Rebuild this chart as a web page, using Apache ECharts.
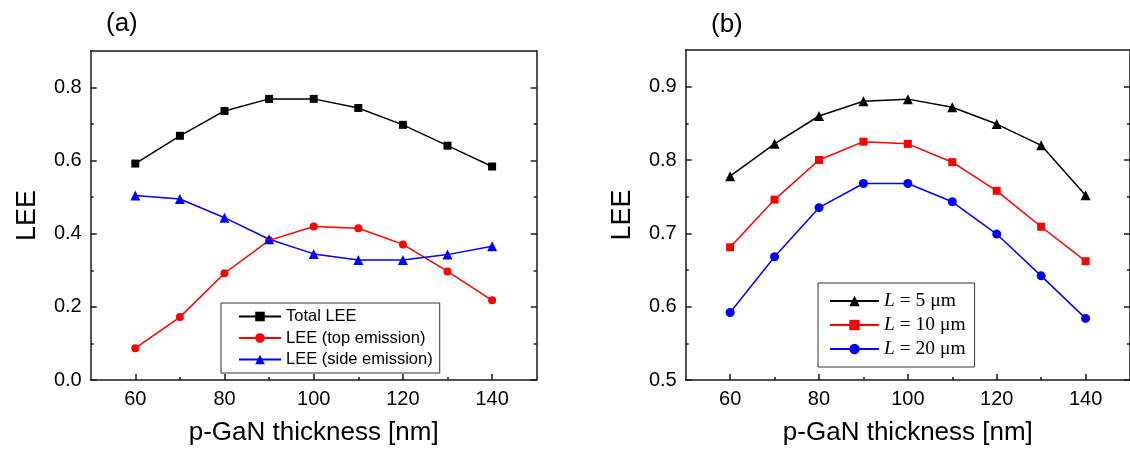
<!DOCTYPE html>
<html><head><meta charset="utf-8">
<script src="https://cdn.jsdelivr.net/npm/echarts@6/dist/echarts.min.js"></script>
<style>html,body{margin:0;padding:0;background:#fff}#c{width:1130px;height:451px}</style>
</head><body><div id="c"></div>
<script>
const thickness = [60, 70, 80, 90, 100, 110, 120, 130, 140];
// panel (a)
const totalLEE = [0.592, 0.668, 0.736, 0.769, 0.769, 0.744, 0.698, 0.641, 0.584];
const topLEE   = [0.087, 0.172, 0.292, 0.382, 0.420, 0.415, 0.371, 0.297, 0.218];
const sideLEE  = [0.505, 0.495, 0.444, 0.385, 0.345, 0.328, 0.328, 0.343, 0.366];
// panel (b)
const lee5  = [0.778, 0.822, 0.860, 0.880, 0.883, 0.872, 0.849, 0.820, 0.752];
const lee10 = [0.681, 0.746, 0.800, 0.825, 0.822, 0.797, 0.758, 0.709, 0.662];
const lee20 = [0.592, 0.668, 0.735, 0.768, 0.768, 0.743, 0.699, 0.642, 0.584];
// ticks
const xMajorTicks = [60, 80, 100, 120, 140];
const xMinorTicks = [70, 90, 110, 130];
const yMajorTicksA = [0, 0.2, 0.4, 0.6, 0.8];
const yMinorTicksA = [0.1, 0.3, 0.5, 0.7];
const yMajorTicksB = [0.5, 0.6, 0.7, 0.8, 0.9];
const yMinorTicksB = [0.55, 0.65, 0.75, 0.85];
const seriesNamesA = ['Total LEE', 'LEE (top emission)', 'LEE (side emission)'];
const seriesNamesB = ['L = 5 μm', 'L = 10 μm', 'L = 20 μm'];

const SANS = '"Liberation Sans", Arial, sans-serif';
const SERIF = '"Liberation Serif", "Times New Roman", serif';
const AX = '#1a1a1a';

function pairs(ys) { return thickness.map((x, i) => [x, ys[i]]); }

function xAxes(gi, min, max) {
  const base = { type: 'value', gridIndex: gi, min: min, max: max, splitLine: { show: false } };
  return [
    Object.assign({}, base, {
      position: 'bottom',
      axisLine: { show: true, onZero: false, lineStyle: { color: AX, width: 1.5 } },
      axisTick: { show: true, inside: true, length: 6, customValues: xMajorTicks, lineStyle: { color: AX, width: 1.5 } },
      axisLabel: { show: true, customValues: xMajorTicks, fontSize: 20, color: '#000', fontFamily: SANS, margin: 9 },
      name: 'p-GaN thickness [nm]', nameLocation: 'middle', nameGap: 40,
      nameTextStyle: { fontSize: 26, color: '#000', fontFamily: SANS }
    }),
    Object.assign({}, base, {
      position: 'bottom',
      axisLine: { show: false, onZero: false },
      axisTick: { show: true, inside: true, length: 3, customValues: xMinorTicks, lineStyle: { color: AX, width: 1.5 } },
      axisLabel: { show: false }
    }),
    Object.assign({}, base, {
      position: 'top',
      axisLine: { show: true, onZero: false, lineStyle: { color: AX, width: 1.5 } },
      axisTick: { show: false },
      axisLabel: { show: false }
    })
  ];
}

function yAxes(gi, min, max, major, minor) {
  const base = { type: 'value', gridIndex: gi, min: min, max: max, splitLine: { show: false } };
  const lab = v => v.toFixed(1);
  return [
    Object.assign({}, base, {
      position: 'left',
      axisLine: { show: true, onZero: false, lineStyle: { color: AX, width: 1.5 } },
      axisTick: { show: true, inside: true, length: 6, customValues: major, lineStyle: { color: AX, width: 1.5 } },
      axisLabel: { show: true, customValues: major, formatter: lab, fontSize: 20, color: '#000', fontFamily: SANS, margin: 9 },
      name: 'LEE', nameLocation: 'middle', nameGap: 50, nameRotate: 90,
      nameTextStyle: { fontSize: 27, color: '#000', fontFamily: SANS }
    }),
    Object.assign({}, base, {
      position: 'left',
      axisLine: { show: false, onZero: false },
      axisTick: { show: true, inside: true, length: 3, customValues: minor, lineStyle: { color: AX, width: 1.5 } },
      axisLabel: { show: false }
    }),
    Object.assign({}, base, {
      position: 'right',
      axisLine: { show: true, onZero: false, lineStyle: { color: AX, width: 1.5 } },
      axisTick: { show: true, inside: true, length: 6, customValues: major, lineStyle: { color: AX, width: 1.5 } },
      axisLabel: { show: false }
    }),
    Object.assign({}, base, {
      position: 'right',
      axisLine: { show: false, onZero: false },
      axisTick: { show: true, inside: true, length: 3, customValues: minor, lineStyle: { color: AX, width: 1.5 } },
      axisLabel: { show: false }
    })
  ];
}

function line(name, data, color, symbol, size, xi, yi) {
  return {
    type: 'line', name: name, data: pairs(data), xAxisIndex: xi, yAxisIndex: yi,
    symbol: symbol, symbolSize: size, showSymbol: true,
    lineStyle: { color: color, width: 1.5 }, itemStyle: { color: color },
    animation: false
  };
}

const chart = echarts.init(document.getElementById('c'));
chart.setOption({
  animation: false,
  backgroundColor: '#fff',
  title: [
    { text: '(a)', left: 101, top: 6, textStyle: { fontSize: 26, fontWeight: 'normal', color: '#000', fontFamily: SANS } },
    { text: '(b)', left: 706, top: 7, textStyle: { fontSize: 26, fontWeight: 'normal', color: '#000', fontFamily: SANS } }
  ],
  grid: [
    { left: 90.7, top: 51, width: 446, height: 330 },
    { left: 685.7, top: 50, width: 446.6, height: 330 }
  ],
  xAxis: xAxes(0, 50, 150).concat(xAxes(1, 50, 150)),
  yAxis: yAxes(0, 0, 0.9, yMajorTicksA, yMinorTicksA).concat(yAxes(1, 0.5, 0.95, yMajorTicksB, yMinorTicksB)),
  legend: [
    {
      data: seriesNamesA, orient: 'vertical', left: 221, top: 303,
      padding: [5, 7, 5, 17], itemGap: 4.5, itemWidth: 42, itemHeight: 12,
      borderColor: '#333', borderWidth: 1, selectedMode: false,
      textStyle: { fontSize: 16.5, color: '#000', fontFamily: SANS }
    },
    {
      data: seriesNamesB, orient: 'vertical', left: 818, top: 283,
      padding: [8, 9, 8, 11], itemGap: 4, itemWidth: 49, itemHeight: 13,
      borderColor: '#333', borderWidth: 1, selectedMode: false,
      formatter: n => '{i|L}' + n.slice(1),
      textStyle: { fontSize: 19.5, color: '#000', fontFamily: SERIF,
        rich: { i: { fontSize: 19.5, fontStyle: 'italic', color: '#000', fontFamily: SERIF } } }
    }
  ],
  series: [
    line(seriesNamesA[0], totalLEE, '#000000', 'rect', 8, 0, 0),
    line(seriesNamesA[1], topLEE, '#ff0000', 'circle', 8, 0, 0),
    line(seriesNamesA[2], sideLEE, '#0000ff', 'triangle', 10, 0, 0),
    line(seriesNamesB[0], lee5, '#000000', 'triangle', 10, 3, 4),
    line(seriesNamesB[1], lee10, '#ff0000', 'rect', 8, 3, 4),
    line(seriesNamesB[2], lee20, '#0000ff', 'circle', 9, 3, 4)
  ]
});
</script>
</body></html>
